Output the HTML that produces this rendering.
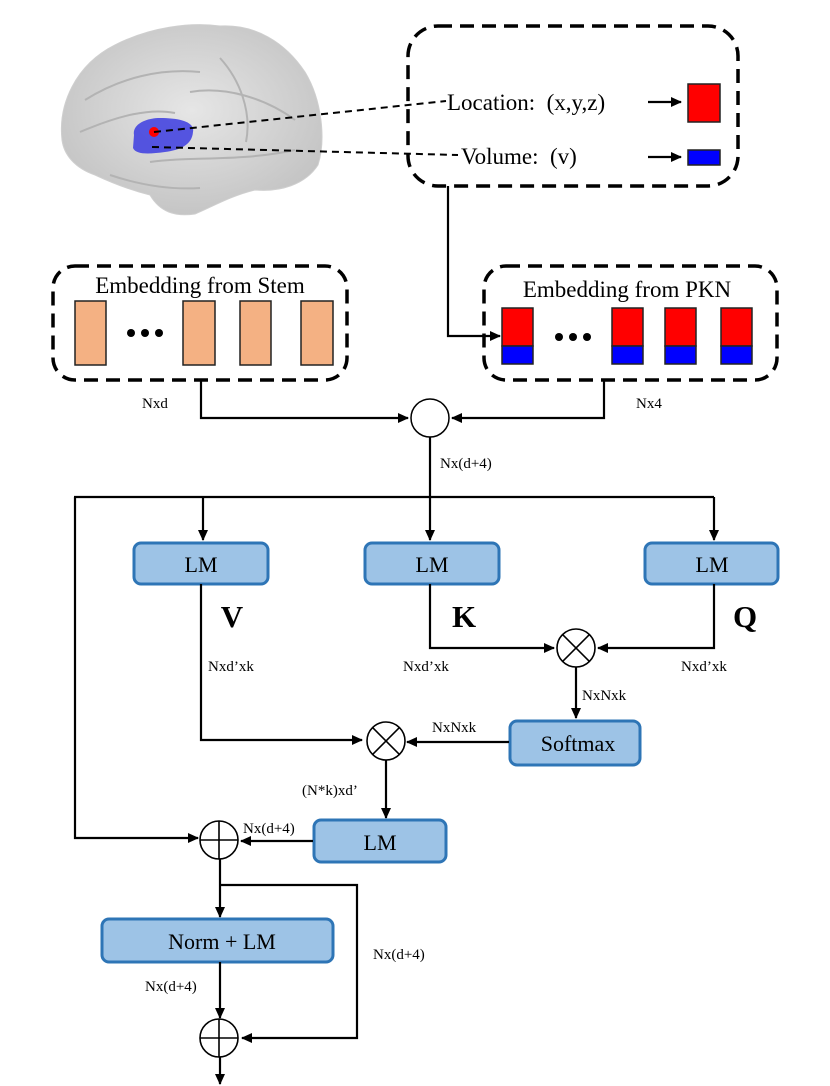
<!DOCTYPE html>
<html><head><meta charset="utf-8"><style>
html,body{margin:0;padding:0;background:#fff;}
svg{display:block;}
text{font-family:"Liberation Serif",serif;fill:#000;}
.lm{fill:#9dc3e6;stroke:#2e75b6;stroke-width:3;}
.ln{fill:none;stroke:#000;stroke-width:2.2;}
.ds{fill:none;stroke:#000;stroke-width:3.5;stroke-dasharray:14,8;}
.lb{font-size:15px;}
</style></head><body>
<svg width="830" height="1086" viewBox="0 0 830 1086" xmlns="http://www.w3.org/2000/svg">
<defs>
<marker id="a" markerWidth="11" markerHeight="10" refX="10" refY="5" orient="auto" markerUnits="userSpaceOnUse">
<path d="M0,0 L11,5 L0,10 z" fill="#000"/></marker>
<radialGradient id="br" cx="50%" cy="45%" r="60%"><stop offset="0" stop-color="#e6e6e6"/><stop offset="1" stop-color="#c2c2c2"/></radialGradient>
</defs>
<!-- brain -->
<path d="M62,140 C58,105 75,65 115,45 C150,27 190,22 220,26 C255,24 285,42 305,72 C322,100 326,140 318,165 C305,185 280,192 255,190 C230,196 210,208 195,214 C175,217 160,212 150,195 C130,190 110,182 95,175 C75,168 64,155 62,140 z" fill="url(#br)" stroke="#cfcfcf" stroke-width="1"/>
<path d="M85,100 C120,78 160,68 200,72 M80,132 C120,115 150,108 175,113 M190,92 C225,86 265,98 295,120 M150,162 C190,156 240,162 295,150 M220,58 C240,80 252,112 246,142 M110,175 C140,185 170,190 200,188" fill="none" stroke="#b3b3b3" stroke-width="2"/>
<path d="M134,135 C132,125 145,118 160,118 C180,118 195,122 193,132 C192,145 180,150 165,152 C150,154 136,155 133,148 z" fill="#3c3ce0" opacity="0.85"/>
<circle cx="154" cy="132" r="5" fill="#f00"/>
<line x1="154" y1="132" x2="446" y2="101" stroke="#000" stroke-width="2" stroke-dasharray="7,5"/>
<line x1="152" y1="147" x2="458" y2="155" stroke="#000" stroke-width="2" stroke-dasharray="7,5"/>
<!-- top box -->
<rect x="408" y="26" width="330" height="160" rx="30" class="ds"/>
<text x="447" y="110" font-size="23">Location:&#160; (x,y,z)</text>
<text x="461" y="164" font-size="23">Volume:&#160; (v)</text>
<line x1="648" y1="102" x2="681" y2="102" class="ln" marker-end="url(#a)"/>
<line x1="648" y1="157" x2="681" y2="157" class="ln" marker-end="url(#a)"/>
<rect x="688" y="84" width="32" height="38" fill="#f00" stroke="#222" stroke-width="1.5"/>
<rect x="688" y="150" width="32" height="15" fill="#00f" stroke="#222" stroke-width="1.5"/>
<polyline points="448,186 448,336 500,336" class="ln" marker-end="url(#a)"/>
<!-- stem box -->
<rect x="53" y="266" width="294" height="114" rx="22" class="ds"/>
<text x="200" y="293" font-size="23" text-anchor="middle">Embedding from Stem</text>
<g fill="#f4b183" stroke="#222" stroke-width="1.5">
<rect x="75" y="301" width="31" height="64"/><rect x="183" y="301" width="32" height="64"/>
<rect x="240" y="301" width="31" height="64"/><rect x="301" y="301" width="32" height="64"/></g>
<g fill="#000"><circle cx="131" cy="333" r="4"/><circle cx="145" cy="333" r="4"/><circle cx="159" cy="333" r="4"/></g>
<!-- PKN box -->
<rect x="484" y="266" width="293" height="114" rx="22" class="ds"/>
<text x="627" y="297" font-size="23" text-anchor="middle">Embedding from PKN</text>
<g stroke="#222" stroke-width="1.5">
<rect x="502" y="308" width="31" height="38" fill="#f00"/><rect x="502" y="346" width="31" height="18" fill="#00f"/>
<rect x="612" y="308" width="31" height="38" fill="#f00"/><rect x="612" y="346" width="31" height="18" fill="#00f"/>
<rect x="665" y="308" width="31" height="38" fill="#f00"/><rect x="665" y="346" width="31" height="18" fill="#00f"/>
<rect x="721" y="308" width="31" height="38" fill="#f00"/><rect x="721" y="346" width="31" height="18" fill="#00f"/></g>
<g fill="#000"><circle cx="559" cy="337" r="4"/><circle cx="573" cy="337" r="4"/><circle cx="587" cy="337" r="4"/></g>
<text x="142" y="408" class="lb">Nxd</text>
<text x="636" y="408" class="lb">Nx4</text>
<polyline points="201,380 201,418 408,418" class="ln" marker-end="url(#a)"/>
<polyline points="604,380 604,418 452,418" class="ln" marker-end="url(#a)"/>
<circle cx="430" cy="418" r="19" fill="#fff" stroke="#000" stroke-width="1.5"/>
<line x1="430" y1="437" x2="430" y2="497" class="ln"/>
<text x="440" y="468" class="lb">Nx(d+4)</text>
<line x1="74" y1="497" x2="714" y2="497" class="ln"/>
<line x1="203" y1="497" x2="203" y2="540" class="ln" marker-end="url(#a)"/>
<line x1="430" y1="497" x2="430" y2="540" class="ln" marker-end="url(#a)"/>
<line x1="714" y1="497" x2="714" y2="540" class="ln" marker-end="url(#a)"/>
<polyline points="75,497 75,838 198,838" class="ln" marker-end="url(#a)"/>
<!-- LMs -->
<rect x="134" y="543" width="134" height="41" rx="7" class="lm"/>
<rect x="365" y="543" width="134" height="41" rx="7" class="lm"/>
<rect x="645" y="543" width="133" height="41" rx="7" class="lm"/>
<text x="201" y="572" font-size="22" text-anchor="middle">LM</text>
<text x="432" y="572" font-size="22" text-anchor="middle">LM</text>
<text x="712" y="572" font-size="22" text-anchor="middle">LM</text>
<text x="232" y="627" font-size="31" font-weight="bold" text-anchor="middle">V</text>
<text x="464" y="627" font-size="31" font-weight="bold" text-anchor="middle">K</text>
<text x="745" y="627" font-size="31" font-weight="bold" text-anchor="middle">Q</text>
<polyline points="201,584 201,740 362,740" class="ln" marker-end="url(#a)"/>
<polyline points="430,584 430,648 554,648" class="ln" marker-end="url(#a)"/>
<polyline points="714,584 714,648 598,648" class="ln" marker-end="url(#a)"/>
<text x="208" y="671" class="lb">Nxd’xk</text>
<text x="403" y="671" class="lb">Nxd’xk</text>
<text x="681" y="671" class="lb">Nxd’xk</text>
<g stroke="#000" stroke-width="1.6" fill="#fff">
<circle cx="576" cy="648" r="19"/><line x1="562.6" y1="634.6" x2="589.4" y2="661.4"/><line x1="589.4" y1="634.6" x2="562.6" y2="661.4"/>
<circle cx="386" cy="741" r="19"/><line x1="372.6" y1="727.6" x2="399.4" y2="754.4"/><line x1="399.4" y1="727.6" x2="372.6" y2="754.4"/>
</g>
<line x1="576" y1="667" x2="576" y2="718" class="ln" marker-end="url(#a)"/>
<text x="582" y="700" class="lb">NxNxk</text>
<rect x="510" y="721" width="130" height="44" rx="7" class="lm"/>
<text x="578" y="751" font-size="22" text-anchor="middle">Softmax</text>
<line x1="509" y1="742" x2="407" y2="742" class="ln" marker-end="url(#a)"/>
<text x="432" y="732" class="lb">NxNxk</text>
<line x1="386" y1="760" x2="386" y2="818" class="ln" marker-end="url(#a)"/>
<text x="302" y="795" class="lb">(N*k)xd’</text>
<rect x="314" y="820" width="132" height="42" rx="7" class="lm"/>
<text x="380" y="850" font-size="22" text-anchor="middle">LM</text>
<line x1="313" y1="841" x2="241" y2="841" class="ln" marker-end="url(#a)"/>
<text x="243" y="833" class="lb">Nx(d+4)</text>
<g stroke="#000" stroke-width="1.6" fill="#fff">
<circle cx="219" cy="840" r="19"/><line x1="200" y1="840" x2="238" y2="840"/><line x1="219" y1="821" x2="219" y2="859"/>
<circle cx="219" cy="1038" r="19"/><line x1="200" y1="1038" x2="238" y2="1038"/><line x1="219" y1="1019" x2="219" y2="1057"/>
</g>
<line x1="220" y1="859" x2="220" y2="917" class="ln" marker-end="url(#a)"/>
<polyline points="220,885 357,885 357,1038 242,1038" class="ln" marker-end="url(#a)"/>
<text x="373" y="959" class="lb">Nx(d+4)</text>
<rect x="102" y="919" width="231" height="43" rx="7" class="lm"/>
<text x="222" y="949" font-size="22" text-anchor="middle">Norm + LM</text>
<line x1="220" y1="962" x2="220" y2="1018" class="ln" marker-end="url(#a)"/>
<text x="145" y="991" class="lb">Nx(d+4)</text>
<line x1="220" y1="1057" x2="220" y2="1084" class="ln" marker-end="url(#a)"/>
</svg>
</body></html>
